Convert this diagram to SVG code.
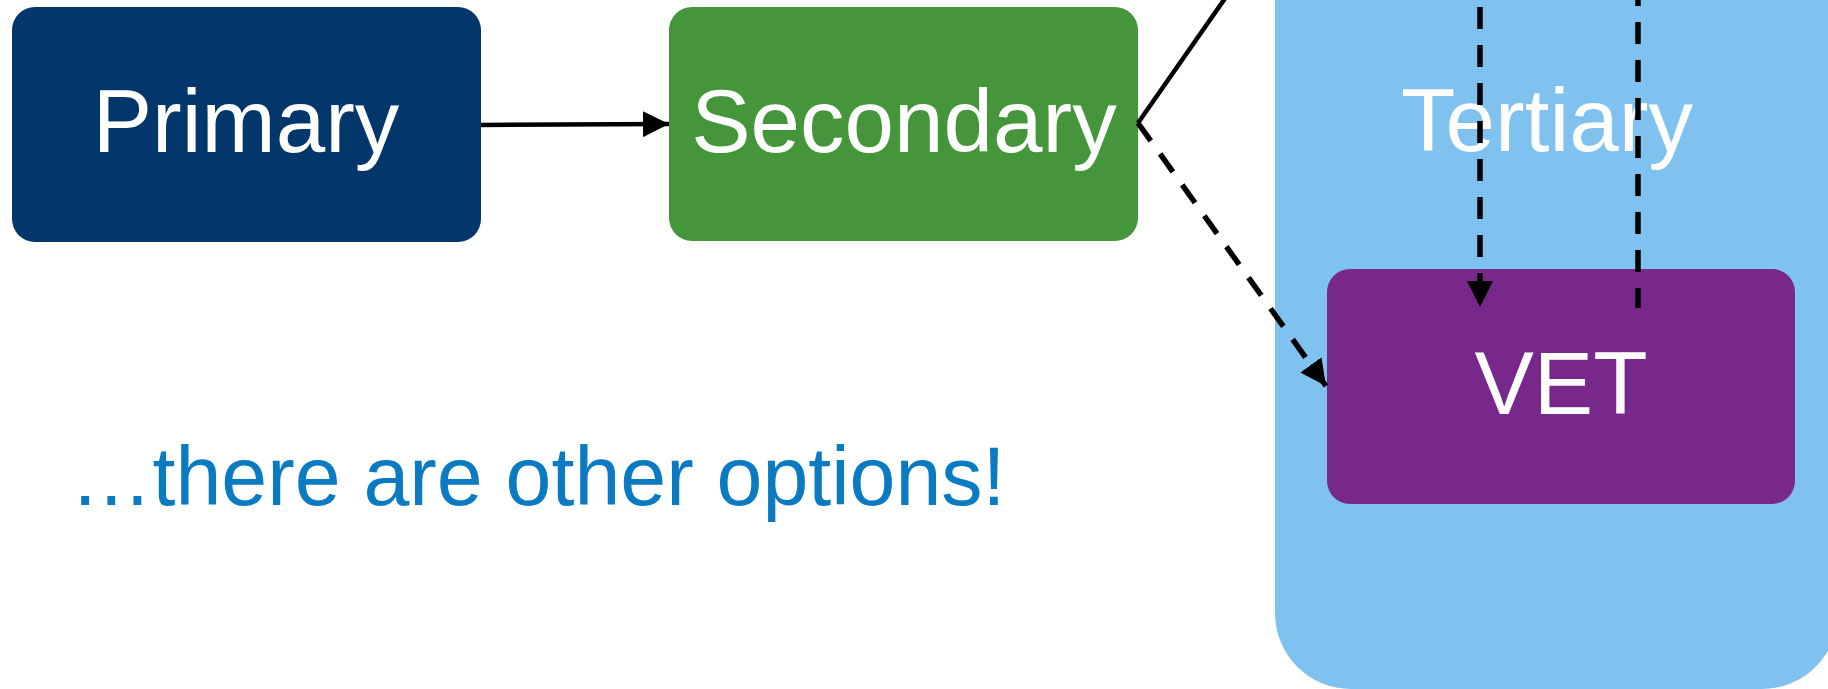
<svg xmlns="http://www.w3.org/2000/svg" width="1828" height="689" viewBox="0 0 1828 689">
<style>
.lbl{font-family:"Liberation Sans",Arial,sans-serif;font-size:89px;fill:#fff;text-anchor:middle}
.ln{stroke:#000;stroke-width:4.5;fill:none}
.dash{stroke-width:5.5;stroke-dasharray:22 16}
</style>
<defs>
<marker id="ah" viewBox="0 0 10 10" refX="10" refY="5" markerWidth="26" markerHeight="26" markerUnits="userSpaceOnUse" orient="auto">
<path d="M0,0 L10,5 L0,10 Z" fill="#000"/>
</marker>
</defs>
<rect width="1828" height="689" fill="#fff"/>
<g id="tertiary">
<rect x="1275" y="-120" width="563" height="809" rx="76" fill="#80C2EF"/>
<text class="lbl" x="1547" y="151">Tertiary</text>
</g>
<g id="primary">
<rect x="12" y="7" width="469" height="235" rx="23" fill="#03366A"/>
<text class="lbl" x="246" y="152">Primary</text>
</g>
<g id="secondary">
<rect x="669" y="7" width="469" height="234" rx="23" fill="#45963B"/>
<text class="lbl" x="904" y="152">Secondary</text>
</g>
<g id="vet">
<rect x="1327" y="269" width="468" height="235" rx="23" fill="#78288A"/>
<text class="lbl" x="1561" y="414">VET</text>
</g>
<g id="connectors">
<line class="ln" x1="481" y1="125" x2="669" y2="124" marker-end="url(#ah)"/>
<line class="ln" x1="1138" y1="123" x2="1226" y2="-3"/>
<line class="ln dash" x1="1138" y1="123" x2="1326" y2="386" marker-end="url(#ah)"/>
<line class="ln dash" x1="1480" y1="7" x2="1480" y2="307" marker-end="url(#ah)"/>
<line class="ln dash" x1="1638" y1="-16" x2="1638" y2="308"/>
</g>
<text x="70" y="505" font-family="Liberation Sans, Arial, sans-serif" font-size="82.5" fill="#0A7BC2">…there are other options!</text>
</svg>
